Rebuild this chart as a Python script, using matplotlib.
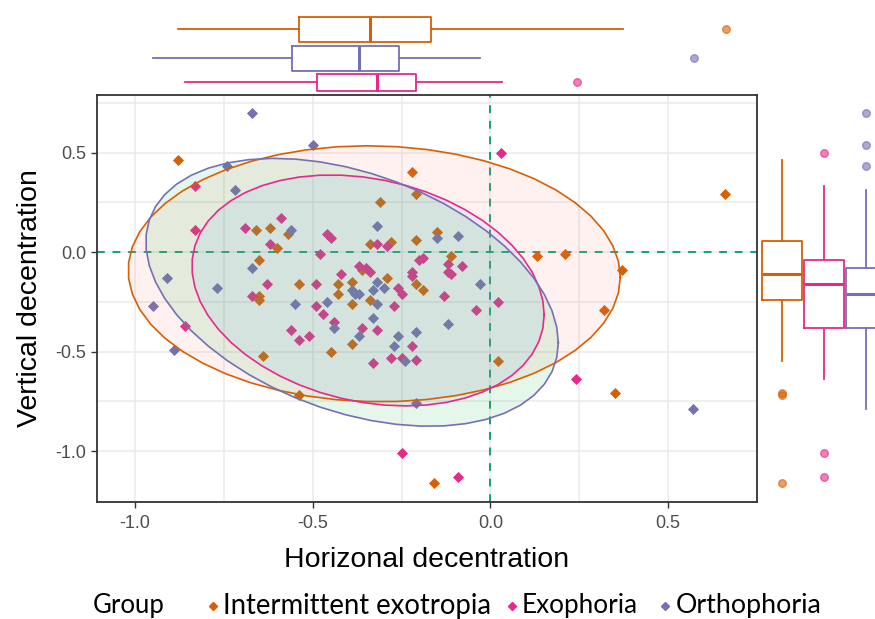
import numpy as np
import matplotlib
matplotlib.use("Agg")
import matplotlib.pyplot as plt
from matplotlib.lines import Line2D
from matplotlib.patches import Polygon

# ---------------- data ----------------
groups = ["Intermittent exotropia", "Exophoria", "Orthophoria"]

ixt_x = [-0.88, -0.22, 0.66, -0.21, -0.31, -0.66, -0.62, -0.57, -0.60, -0.34,
         -0.28, -0.21, -0.65, -0.54, -0.36, -0.43, -0.39, -0.29, -0.21, -0.43,
         -0.19, -0.65, -0.65, -0.34, -0.39, -0.39, -0.45, -0.64, -0.54, -0.16,
         -0.15, -0.11, 0.13, 0.21, 0.37, 0.32, 0.35, 0.02]
ixt_y = [0.46, 0.40, 0.29, 0.29, 0.25, 0.11, 0.12, 0.09, 0.02, 0.04,
         0.05, 0.06, -0.04, -0.16, -0.09, -0.16, -0.15, -0.13, -0.16, -0.21,
         -0.19, -0.22, -0.24, -0.24, -0.26, -0.46, -0.50, -0.52, -0.72, -1.16,
         0.10, -0.02, -0.02, -0.01, -0.09, -0.29, -0.71, -0.55]

exo_x = [-0.83, -0.59, -0.69, -0.83, -0.46, -0.45, -0.62, -0.48, -0.32, -0.29,
         -0.20, -0.19, -0.63, -0.49, -0.42, -0.37, -0.35, -0.34, -0.22, -0.22,
         -0.26, -0.25, -0.67, -0.49, -0.27, -0.47, -0.44, -0.36, -0.32, -0.56,
         -0.54, -0.51, -0.33, -0.22, -0.28, -0.25, -0.21, -0.86, -0.25, 0.03,
         -0.12, -0.08, -0.12, -0.11, -0.13, 0.02, -0.04, 0.24, -0.09]
exo_y = [0.33, 0.17, 0.12, 0.11, 0.09, 0.07, 0.04, -0.01, 0.04, 0.03,
         -0.04, -0.03, -0.16, -0.16, -0.11, -0.07, -0.08, -0.10, -0.10, -0.12,
         -0.18, -0.21, -0.22, -0.27, -0.27, -0.31, -0.35, -0.38, -0.39, -0.39,
         -0.44, -0.42, -0.56, -0.47, -0.53, -0.53, -0.54, -0.37, -1.01, 0.50,
         -0.06, -0.07, -0.10, -0.11, -0.22, -0.25, -0.29, -0.64, -1.13]

ortho_x = [-0.67, -0.50, -0.74, -0.72, -0.32, -0.56, -0.15, -0.09, -0.67, -0.91,
           -0.77, -0.32, -0.30, -0.33, -0.39, -0.38, -0.37, -0.95, -0.55, -0.46,
           -0.32, -0.33, -0.44, -0.37, -0.26, -0.27, -0.21, -0.24, -0.21, -0.89,
           -0.12, -0.03, 0.57]
ortho_y = [0.70, 0.54, 0.43, 0.31, 0.13, 0.11, 0.07, 0.08, -0.08, -0.13,
           -0.18, -0.15, -0.18, -0.19, -0.19, -0.21, -0.21, -0.27, -0.26, -0.25,
           -0.26, -0.33, -0.38, -0.42, -0.42, -0.47, -0.40, -0.55, -0.76, -0.49,
           -0.36, -0.16, -0.79]

xs = {"Intermittent exotropia": ixt_x, "Exophoria": exo_x, "Orthophoria": ortho_x}
ys = {"Intermittent exotropia": ixt_y, "Exophoria": exo_y, "Orthophoria": ortho_y}

line_col = {"Intermittent exotropia": "#D95F02", "Exophoria": "#E7298A", "Orthophoria": "#7570B3"}
fill_col = {"Intermittent exotropia": "#F8766D", "Exophoria": "#619CFF", "Orthophoria": "#00BA38"}
ref_col = "#1B9E77"

x_ticks = [-1.0, -0.5, 0.0, 0.5]
y_ticks = [-1.0, -0.5, 0.0, 0.5]
XLIM = (-1.107, 0.747)
YLIM = (-1.256, 0.789)


def cov_trob(X, nu=5, maxit=25, tol=0.01):
    n, p = X.shape
    wt = np.ones(n)
    loc = X.mean(axis=0)
    w = np.sqrt(wt)
    Xc = X - loc
    for _ in range(maxit):
        w0 = w
        Xc = X - loc
        _, d, Vt = np.linalg.svd(np.sqrt(w / w.sum())[:, None] * Xc, full_matrices=False)
        wX = Xc @ Vt.T @ np.diag(1.0 / d)
        Q = (wX ** 2).sum(axis=1)
        w = wt * (nu + p) / (nu + Q)
        loc = (w[:, None] * X).sum(axis=0) / w.sum()
        if np.all(np.abs(w - w0) < tol):
            break
    cov = (np.sqrt(w)[:, None] * Xc).T @ (np.sqrt(w)[:, None] * Xc) / wt.sum()
    return loc, cov


def ellipse_pts(x, y, level=0.95, segments=51):
    X = np.column_stack([x, y])
    n = len(x)
    center, shape = cov_trob(X)
    dfd = n - 1
    qf = dfd / 2.0 * ((1 - level) ** (-2.0 / dfd) - 1)
    radius = np.sqrt(2 * qf)
    R = np.linalg.cholesky(shape).T
    ang = np.linspace(0, 2 * np.pi, segments + 1)
    circ = np.column_stack([np.cos(ang), np.sin(ang)])
    return center + radius * circ @ R


W, H = 875, 619
fig = plt.figure(figsize=(W / 100, H / 100), dpi=100)

# main panel
ax = fig.add_axes([97 / W, (H - 502) / H, 660 / W, 407 / H])
ax.set_xlim(*XLIM)
ax.set_ylim(*YLIM)
ax.set_xticks(x_ticks)
ax.set_yticks(y_ticks)
ax.set_xticklabels([f"{v:.1f}" for v in x_ticks])
ax.set_yticklabels([f"{v:.1f}" for v in y_ticks])
minor = np.arange(-1.0, 0.76, 0.25)
ax.set_xticks(minor, minor=True)
ax.set_yticks(minor, minor=True)
ax.grid(True, which="both", color="#EBEBEB", linewidth=1.1, zorder=0)
ax.tick_params(which="minor", length=0)
ax.tick_params(which="major", length=4, width=1, color="#333333",
               labelsize=13, labelcolor="#4D4D4D")
ax.tick_params(axis="x", pad=5)
ax.tick_params(axis="y", pad=4)
for lab in ax.get_xticklabels() + ax.get_yticklabels():
    lab.set_fontfamily("Liberation Sans")
ax.set_axisbelow(True)
for s in ax.spines.values():
    s.set_color("#333333")
    s.set_linewidth(1.3)

ax.axhline(0, color=ref_col, linestyle=(0, (4, 4)), linewidth=1.4, zorder=1.5)
ax.axvline(0, color=ref_col, linestyle=(0, (4, 4)), linewidth=1.4, zorder=1.5)

for g in groups:
    ax.scatter(xs[g], ys[g], marker="D", s=32, color=line_col[g], linewidths=0, zorder=2)

for g in groups:
    pts = ellipse_pts(np.array(xs[g]), np.array(ys[g]))
    ax.add_patch(Polygon(pts, closed=True, facecolor=fill_col[g], alpha=0.1,
                         edgecolor="none", zorder=3))
    ax.plot(pts[:, 0], pts[:, 1], color=line_col[g], linewidth=1.2, zorder=3.2)

ax.set_xlabel("Horizonal decentration", fontsize=20.5, family="Liberation Sans", labelpad=11)
ax.set_ylabel("Vertical decentration", fontsize=20.5, family="Liberation Sans", labelpad=9)

# top marginal boxplots (vertical axis in pixel units from the top)
axt = fig.add_axes([97 / W, (H - 93) / H, 660 / W, 93 / H])
axt.set_xlim(*XLIM)
axt.set_ylim(93, 0)
axt.axis("off")
top_pos = {"Intermittent exotropia": 29, "Orthophoria": 58, "Exophoria": 82}
top_w = {"Intermittent exotropia": 25, "Orthophoria": 25, "Exophoria": 17}
for g in groups:
    c = line_col[g]
    axt.boxplot([xs[g]], positions=[top_pos[g]], vert=False, widths=top_w[g],
                whis=1.5, manage_ticks=False,
                boxprops=dict(color=c, linewidth=1.3),
                whiskerprops=dict(color=c, linewidth=1.3),
                capprops=dict(linewidth=0),
                medianprops=dict(color=c, linewidth=2.2),
                flierprops=dict(marker="o", markerfacecolor=c, markeredgecolor=c,
                                markersize=5.5, alpha=0.6))

# right marginal boxplots
axr = fig.add_axes([759 / W, (H - 502) / H, 116 / W, 407 / H])
axr.set_ylim(*YLIM)
axr.set_xlim(0.452, 3.214)
axr.axis("off")
right_pos = {"Intermittent exotropia": 1, "Exophoria": 2, "Orthophoria": 3}
for g in groups:
    c = line_col[g]
    axr.boxplot([ys[g]], positions=[right_pos[g]], vert=True, widths=0.95,
                whis=1.5, manage_ticks=False,
                boxprops=dict(color=c, linewidth=1.3),
                whiskerprops=dict(color=c, linewidth=1.3),
                capprops=dict(linewidth=0),
                medianprops=dict(color=c, linewidth=2.2),
                flierprops=dict(marker="o", markerfacecolor=c, markeredgecolor=c,
                                markersize=5.5, alpha=0.6))

# legend at bottom
leg_font = ["Lato", "DejaVu Sans"]
ly = 1 - 606 / H
fig.text(93 / W, ly, "Group", fontsize=18.5, family=leg_font, va="center", ha="left")
marker_x = [213, 512, 665]
label_x = [223, 522, 676]
label_size = [19.8, 18.8, 19.3]
for g, mx, lx, fs in zip(groups, marker_x, label_x, label_size):
    fig.add_artist(Line2D([mx / W], [ly], marker="D", markersize=3.8, color=line_col[g],
                          linestyle="none", transform=fig.transFigure))
    fig.text(lx / W, ly, g, fontsize=fs, family=leg_font, va="center", ha="left")

fig.savefig("out.png", dpi=100)
